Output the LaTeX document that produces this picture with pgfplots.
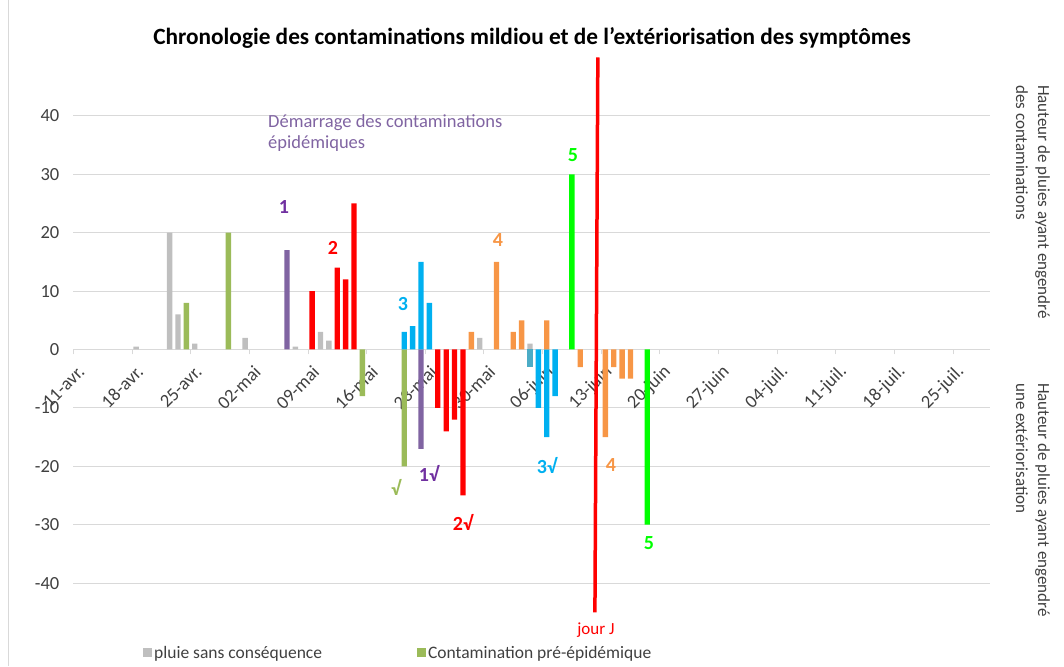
\documentclass[border=0pt]{standalone}
\usepackage{pgfplots}
\pgfplotsset{compat=1.18}
\usepackage{fontspec}
\setmainfont{Carlito}
\definecolor{cgray}{HTML}{BFBFBF}
\definecolor{cgreenpre}{HTML}{9BBB59}
\definecolor{cpurple}{HTML}{8064A2}
\definecolor{cred}{HTML}{FF0000}
\definecolor{ccyan}{HTML}{00B0F0}
\definecolor{cteal}{HTML}{4BACC6}
\definecolor{corange}{HTML}{F79646}
\definecolor{cbgreen}{HTML}{00FF00}
\definecolor{lpurple}{HTML}{7030A0}
\definecolor{ctext}{HTML}{404040}
\definecolor{cgrid}{HTML}{D9D9D9}
\begin{document}
\begin{tikzpicture}
\useasboundingbox (0pt,0pt) rectangle (1064pt,666pt);
\draw[cgrid, line width=0.8pt] (8pt,0pt) -- (8pt,666pt);
\begin{axis}[
  at={(73.3pt,82.9pt)}, anchor=south west,
  scale only axis, width=916.7pt, height=467.2pt,
  xmin=0, xmax=109.4, ymin=-40, ymax=40,
  clip=false,
  axis x line=middle, axis y line=left,
  x axis line style={-, draw=cgrid, line width=0.8pt},
  y axis line style={draw=none},
  hide obscured x ticks=false, hide obscured y ticks=false,
  xtick={0,7,...,105},
  xticklabels={11-avr.,18-avr.,25-avr.,02-mai,09-mai,16-mai,23-mai,30-mai,06-juin,13-juin,20-juin,27-juin,04-juil.,11-juil.,18-juil.,25-juil.},
  xticklabel style={rotate=45, anchor=east, text=ctext, font=\fontsize{18.5}{22}\selectfont, xshift=-1pt, yshift=-16pt},
  xtick style={draw=cgrid, line width=0.8pt},
  xtick align=outside, major tick length=5pt,
  ytick={-40,-30,...,40},
  yticklabels={-40,-30,-20,-10,0,10,20,30,40},
  yticklabel style={text=ctext, font=\fontsize{18.5}{22}\selectfont, xshift=-8pt},
  ytick style={draw=none},
  ymajorgrids, grid style={draw=cgrid, line width=0.8pt},
  legend style={at={(axis description cs:0.076,-0.1496)}, anchor=west, draw=none, fill=none,
     legend columns=2, font=\fontsize{17.5}{20}\selectfont, text=ctext,
     /tikz/every even column/.append style={column sep=93pt},
     legend cell align=left, inner sep=0pt},
]
\addplot[ybar, bar width=0.64, bar shift=0pt, fill=cgray, draw=none,
  legend image code/.code={\fill[cgray] (0pt,-4.5pt) rectangle (9pt,4.5pt);}]
  coordinates {(7.5,0.5) (11.5,20) (12.5,6) (14.5,1) (20.5,2) (26.5,0.5) (29.5,3) (30.5,1.5) (48.5,2) (54.5,1)};
\addlegendentry{pluie sans conséquence}
\addplot[ybar, bar width=0.64, bar shift=0pt, fill=cgreenpre, draw=none,
  legend image code/.code={\fill[cgreenpre] (0pt,-4.5pt) rectangle (9pt,4.5pt);}]
  coordinates {(13.5,8) (18.5,20) (34.5,-8) (39.5,-20)};
\addlegendentry{Contamination pré-épidémique}
\addplot[ybar, bar width=0.64, bar shift=0pt, fill=cpurple, draw=none, forget plot]
  coordinates {(25.5,17) (41.5,-17)};
\addplot[ybar, bar width=0.64, bar shift=0pt, fill=cred, draw=none, forget plot]
  coordinates {(28.5,10) (31.5,14) (32.5,12) (33.5,25) (43.5,-10) (44.5,-14) (45.5,-12) (46.5,-25)};
\addplot[ybar, bar width=0.64, bar shift=0pt, fill=ccyan, draw=none, forget plot]
  coordinates {(39.5,3) (40.5,4) (41.5,15) (42.5,8) (55.5,-10) (56.5,-15) (57.5,-8)};
\addplot[ybar, bar width=0.64, bar shift=0pt, fill=cteal, draw=none, forget plot]
  coordinates {(54.5,-3)};
\addplot[ybar, bar width=0.64, bar shift=0pt, fill=corange, draw=none, forget plot]
  coordinates {(47.5,3) (50.5,15) (52.5,3) (53.5,5) (56.5,5) (60.5,-3) (63.5,-15) (64.5,-3) (65.5,-5) (66.5,-5)};
\addplot[ybar, bar width=0.64, bar shift=0pt, fill=cbgreen, draw=none, forget plot]
  coordinates {(59.5,30) (68.5,-30)};
\addplot[draw=cred, line width=3.5pt, no markers, forget plot]
  coordinates {(62.6,50) (62.25,-45)};
\end{axis}
% title
\node[font=\bfseries\fontsize{23.3}{27}\selectfont, text=black] at (532pt,628pt)
  {Chronologie des contaminations mildiou et de l'extériorisation des symptômes};
% annotation
\node[font=\fontsize{18.5}{21}\selectfont, text=cpurple, align=left, anchor=north west, inner sep=0pt]
  at (268pt,552pt) {Démarrage des contaminations\\épidémiques};
\begin{scope}[every node/.style={font=\bfseries\fontsize{20}{22}\selectfont, inner sep=0pt}]
\node[text=lpurple] at (284pt,459pt) {1};
\node[text=cred] at (333pt,418pt) {2};
\node[text=ccyan] at (403pt,362pt) {3};
\node[text=corange] at (498pt,426pt) {4};
\node[text=cbgreen] at (573pt,511pt) {5};
\node[text=cgreenpre] at (396pt,179pt) {√};
\node[text=lpurple] at (429pt,193pt) {1√};
\node[text=cred] at (463pt,144pt) {2√};
\node[text=ccyan] at (547pt,200pt) {3√};
\node[text=corange] at (611pt,201pt) {4};
\node[text=cbgreen] at (649pt,123pt) {5};
\end{scope}
\node[font=\fontsize{17}{20}\selectfont, text=cred, inner sep=0pt] at (596pt,36pt) {jour J};
% right labels
\node[rotate=-90, anchor=north west, align=left, inner sep=0pt, text=ctext,
  font=\fontsize{17}{22}\selectfont] at (1050pt,581pt)
  {Hauteur de pluies ayant engendré\\des contaminations};
\node[rotate=-90, anchor=north west, align=left, inner sep=0pt, text=ctext,
  font=\fontsize{17}{22}\selectfont] at (1050pt,283pt)
  {Hauteur de pluies ayant engendré\\une extériorisation};
\end{tikzpicture}
\end{document}
